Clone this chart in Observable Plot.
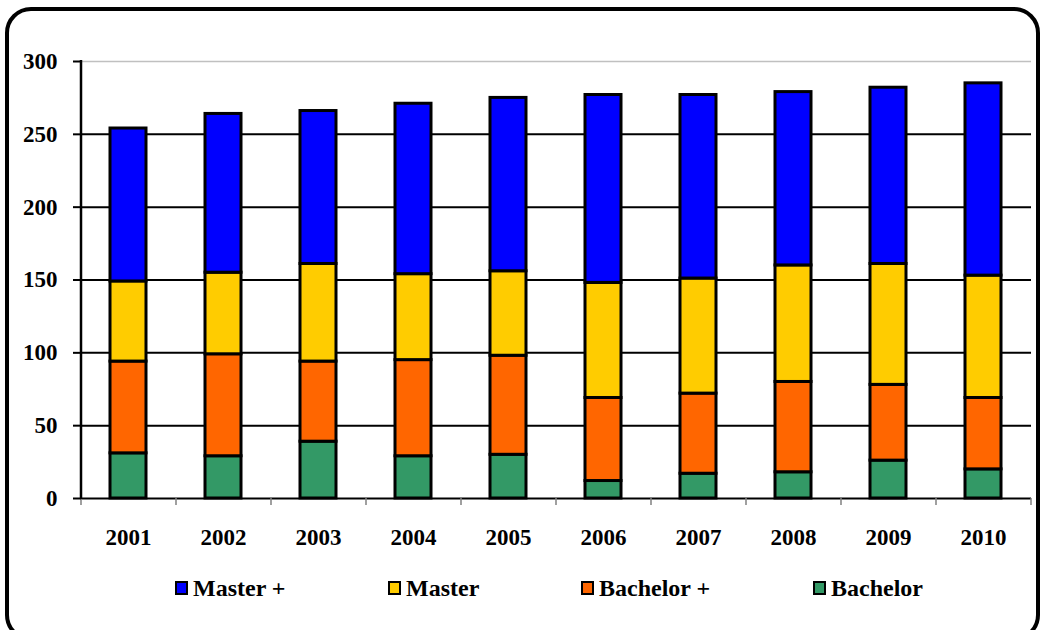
<!DOCTYPE html>
<html>
<head>
<meta charset="utf-8">
<script src="https://cdn.jsdelivr.net/npm/d3@7"></script>
<script src="https://cdn.jsdelivr.net/npm/@observablehq/plot@0.6"></script>
<style>
  html, body { margin: 0; padding: 0; background: #fff; width: 1040px; height: 630px; overflow: hidden; }
  #wrap { position: relative; width: 1040px; height: 630px; }
  #frame { position: absolute; left: 5px; top: 7px; width: 1027px; height: 626px; border: 4px solid #000; border-radius: 26px; pointer-events: none; }
  #chart { position: absolute; left: 0; top: 0; }
  #chart svg text { font-family: "Liberation Serif", "Times New Roman", Tinos, serif !important; font-weight: 700; fill: #000; }
  #legend { position: absolute; left: 0; top: 575px; width: 1040px; height: 26px; font-family: "Liberation Serif", "Times New Roman", Tinos, serif; font-weight: 700; font-size: 24px; color: #000; }
  .item { position: absolute; top: 0; display: flex; align-items: center; height: 26px; }
  .sw { width: 9px; height: 10px; border: 2px solid #000; margin-right: 5px; }
</style>
</head>
<body>
<div id="wrap">
  <div id="chart"></div>
  <div id="legend"></div>
  <div id="frame"></div>
</div>
<script>
const years = ["2001","2002","2003","2004","2005","2006","2007","2008","2009","2010"];
const seriesNames = ["Bachelor", "Bachelor +", "Master", "Master +"];
const bachelor     = [31, 29, 39, 29, 30, 12, 17, 18, 26, 20];
const bachelorPlus = [63, 70, 55, 66, 68, 57, 55, 62, 52, 49];
const master       = [55, 56, 67, 59, 58, 79, 79, 80, 83, 84];
const masterPlus   = [105, 109, 105, 117, 119, 129, 126, 119, 121, 132];
const colors = ["#339966", "#FF6600", "#FFCC00", "#0000FF"];
const yTicks = [0, 50, 100, 150, 200, 250, 300];
const gridValues = [50, 100, 150, 200, 250];
const legendOrder = ["Master +", "Master", "Bachelor +", "Bachelor"];
const legendLeft = [175, 388, 581, 813];

const seriesValues = [bachelor, bachelorPlus, master, masterPlus];
const data = [];
seriesNames.forEach((s, si) => {
  years.forEach((y, yi) => data.push({year: y, series: s, value: seriesValues[si][yi]}));
});

const W = 1040, H = 560, mL = 81, mR = 9, mT = 61, mB = 62;

function axisDecor(index, scales, values, dims) {
  const g = d3.create("svg:g");
  const left = dims.marginLeft, right = dims.width - dims.marginRight;
  const n = years.length;
  const step = (right - left) / n;
  const y0 = scales.y(0), yTop = scales.y(300);
  for (let i = 0; i <= n; i++) {
    const x = left + i * step;
    g.append("line").attr("x1", x).attr("x2", x).attr("y1", y0).attr("y2", y0 + 7)
      .attr("stroke", "#808080").attr("stroke-width", 1.5);
  }
  g.append("line").attr("x1", left).attr("x2", left).attr("y1", yTop - 1).attr("y2", y0 + 1)
    .attr("stroke", "#000").attr("stroke-width", 2.5);
  return g.node();
}

const plot = Plot.plot({
  width: W, height: H,
  marginLeft: mL, marginRight: mR, marginTop: mT, marginBottom: mB,
  style: {fontFamily: "Liberation Serif", background: "transparent"},
  x: {domain: years, paddingInner: 0.62, paddingOuter: 0.31, label: null},
  y: {domain: [0, 300], label: null},
  color: {domain: seriesNames, range: colors},
  marks: [
    Plot.ruleY(gridValues, {stroke: "#000", strokeWidth: 2}),
    Plot.ruleY([300], {stroke: "#c0c0c0", strokeWidth: 1.5}),
    Plot.ruleY([0], {stroke: "#000", strokeWidth: 2}),
    axisDecor,
    Plot.barY(data, {x: "year", y: "value", fill: "series", stroke: "#000", strokeWidth: 3, order: seriesNames}),
    Plot.axisY({ticks: yTicks, tickSize: 8, tickPadding: 16, fontSize: 23, fontWeight: "bold", strokeWidth: 2, stroke: "#000", label: null}),
    Plot.axisX({tickSize: 0, tickPadding: 30, fontSize: 23, fontWeight: "bold", label: null})
  ]
});
document.getElementById("chart").appendChild(plot);

const leg = document.getElementById("legend");
legendOrder.forEach((name, i) => {
  const item = document.createElement("div");
  item.className = "item";
  item.style.left = legendLeft[i] + "px";
  const sw = document.createElement("div");
  sw.className = "sw";
  sw.style.background = colors[seriesNames.indexOf(name)];
  const t = document.createElement("span");
  t.textContent = name;
  item.appendChild(sw); item.appendChild(t);
  leg.appendChild(item);
});
</script>
</body>
</html>
